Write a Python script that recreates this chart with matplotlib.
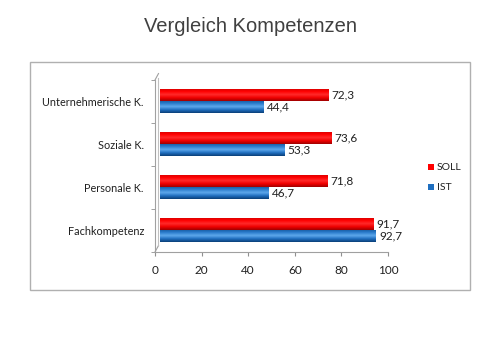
import matplotlib
matplotlib.use("Agg")
import matplotlib.pyplot as plt
import numpy as np
from matplotlib.colors import LinearSegmentedColormap
from matplotlib.patches import Rectangle

categories = ["Fachkompetenz", "Personale K.", "Soziale K.", "Unternehmerische K."]
soll = [91.7, 71.8, 73.6, 72.3]
ist = [92.7, 46.7, 53.3, 44.4]
xticks = [0, 20, 40, 60, 80, 100]
title = "Vergleich Kompetenzen"

plt.rcParams['font.family'] = ['Lato', 'DejaVu Sans']

fig = plt.figure(figsize=(5.0, 3.53), dpi=100)
fig.patch.set_facecolor("white")
# outer chart frame
fig.patches.append(Rectangle((30/500, 1-290/353), 440/500, 228/353, transform=fig.transFigure,
                             fill=False, edgecolor="#b0b0b0", linewidth=1.0))
fig.text(0.5, 1-27/353, title, ha="center", va="center", fontsize=14.5,
         color="#404040", family=["Liberation Sans", "DejaVu Sans"])

ax = fig.add_axes([155/500, 1-252/353, 233/500, 172/353])
y = np.arange(len(categories))
h = 0.28
red_cmap = LinearSegmentedColormap.from_list("r", ["#a00000", "#f00000", "#ff2a2a", "#ff0000", "#d00000"])
blue_cmap = LinearSegmentedColormap.from_list("b", ["#0a3f78", "#1f6fc0", "#5ea8ec", "#2a7ccc", "#15579a"])

bars_s = ax.barh(y + h/2 + 0.02, soll, height=h, color="#ff0000", left=2.0, zorder=2)
bars_i = ax.barh(y - h/2 + 0.02, ist, height=h, color="#1f6fc0", left=2.0, zorder=2)
grad = np.linspace(0, 1, 64).reshape(-1, 1)
for bars, cm in ((bars_s, red_cmap), (bars_i, blue_cmap)):
    for p in bars:
        x0, y0 = p.get_x(), p.get_y()
        w, hh = p.get_width(), p.get_height()
        im = ax.imshow(grad, cmap=cm, aspect="auto", extent=(x0, x0 + w, y0, y0 + hh),
                       origin="lower", zorder=3, interpolation="bilinear")
        im.set_clip_path(p)

for bars, vals in ((bars_s, soll), (bars_i, ist)):
    for p, v in zip(bars, vals):
        ax.text(p.get_x() + p.get_width() + 1.5, p.get_y() + p.get_height()/2,
                f"{v:.1f}".replace(".", ","), va="center", ha="left", fontsize=8.5, color="#202020")

ax.set_xlim(0, 100)
ax.set_ylim(-0.5, 3.5)
ax.set_xticks(xticks)
ax.set_xticklabels([str(t) for t in xticks], fontsize=8.5, color="#202020")
ax.set_yticks(y)
ax.set_yticklabels(categories, fontsize=7.8, color="#202020")
ax.set_yticks(np.arange(-0.5, 4.0, 1.0), minor=True)
ax.tick_params(axis="y", which="major", length=0, pad=8)
ax.tick_params(axis="y", which="minor", length=3, color="#909090")
ax.tick_params(axis="x", length=3, color="#909090", pad=6)
for s in ("top", "right"):
    ax.spines[s].set_visible(False)
ax.spines["left"].set_color("#a0a0a0")
ax.spines["bottom"].set_color("#a0a0a0")
ax.set_facecolor("none")
# 3D wall edge
ax.plot([0, 1.5], [-0.5, -0.35], color="#a0a0a0", lw=0.8, clip_on=False)
ax.plot([1.5, 1.5], [-0.35, 3.55], color="#c0c0c0", lw=0.8, clip_on=False)
ax.plot([0, 1.5], [3.5, 3.65], color="#a0a0a0", lw=0.8, clip_on=False)

# legend
fig.patches.append(Rectangle((428/500, 1-170/353), 6/500, 6/353, transform=fig.transFigure,
                             facecolor="#ff0000", edgecolor="none"))
fig.text(437/500, 1-167/353, "SOLL", fontsize=7.5, va="center", color="#202020")
fig.patches.append(Rectangle((428/500, 1-190/353), 6/500, 6/353, transform=fig.transFigure,
                             facecolor="#1f6fc0", edgecolor="none"))
fig.text(437/500, 1-187/353, "IST", fontsize=7.5, va="center", color="#202020")

fig.savefig("out.png", dpi=100)
